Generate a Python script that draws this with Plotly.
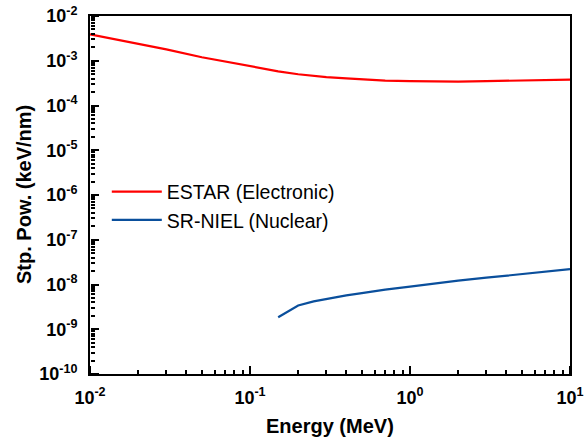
import plotly.graph_objects as go

# ESTAR electronic stopping power
e_energy = [0.01, 0.015, 0.02, 0.03, 0.05, 0.07, 0.1, 0.15, 0.2, 0.3, 0.4, 0.5, 0.7,
            1, 1.5, 2, 3, 5, 7, 10]
e_stp = [3.9e-3, 2.95e-3, 2.45e-3, 1.8e-3, 1.2e-3, 9.5e-4, 7.4e-4, 5.8e-4, 5.0e-4,
         4.3e-4, 4.05e-4, 3.85e-4, 3.6e-4, 3.5e-4, 3.4e-4, 3.42e-4, 3.5e-4, 3.65e-4,
         3.72e-4, 3.8e-4]

# SR-NIEL nuclear stopping power
n_energy = [0.15, 0.2, 0.25, 0.3, 0.4, 0.5, 0.7, 1, 1.5, 2, 3, 5, 7, 10]
n_stp = [1.85e-9, 3.4e-9, 4.2e-9, 4.8e-9, 5.7e-9, 6.4e-9, 7.7e-9, 9.0e-9, 1.08e-8,
         1.22e-8, 1.42e-8, 1.72e-8, 1.95e-8, 2.2e-8]

x_exps = [-2, -1, 0, 1]
y_exps = [-10, -9, -8, -7, -6, -5, -4, -3, -2]
x_tickvals = [10.0 ** k for k in x_exps]
x_ticktext = [f"<b>10<sup>{k}</sup></b>" for k in x_exps]
y_tickvals = [10.0 ** k for k in y_exps]
y_ticktext = [f"<b>10<sup>{k}</sup></b>" for k in y_exps]
minor_digits = [2, 3, 4, 5, 6, 7, 8, 9]
x_minor = [d * 10.0 ** k for k in x_exps[:-1] for d in minor_digits]
y_minor = [d * 10.0 ** k for k in y_exps[:-1] for d in minor_digits]

FONT = "Arial, Liberation Sans, sans-serif"

fig = go.Figure()
fig.add_trace(go.Scatter(x=e_energy, y=e_stp, mode="lines", name="ESTAR (Electronic)",
                         line=dict(color="#ff0000", width=2.2)))
fig.add_trace(go.Scatter(x=n_energy, y=n_stp, mode="lines", name="SR-NIEL (Nuclear)",
                         line=dict(color="#0a4f9c", width=2.2)))
# invisible trace to carry the tick-only overlay axes (ticks pointing into the plot)
fig.add_trace(go.Scatter(x=n_energy, y=n_stp, xaxis="x2", yaxis="y2", mode="lines",
                         line=dict(width=0), opacity=0, showlegend=False, hoverinfo="skip"))

tick_overlay = dict(showgrid=False, zeroline=False, showline=False, showticklabels=False,
                    ticks="outside", ticklen=8, tickwidth=2, tickcolor="#000000")

fig.update_layout(
    xaxis=dict(
        type="log", range=[-2, 1], tickmode="array", tickvals=x_tickvals, ticktext=x_ticktext,
        ticks="", ticklabelstandoff=6,
        showgrid=False, zeroline=False, showline=True, linecolor="#000000", linewidth=2,
        mirror=True, tickfont=dict(family=FONT, size=18, color="#000000"),
    ),
    yaxis=dict(
        type="log", range=[-10, -2], tickmode="array", tickvals=y_tickvals, ticktext=y_ticktext,
        ticks="", ticklabelstandoff=7,
        showgrid=False, zeroline=False, showline=True, linecolor="#000000", linewidth=2,
        mirror=True, tickfont=dict(family=FONT, size=18, color="#000000"),
    ),
    xaxis2=dict(
        type="log", range=[-2, 1], overlaying="x", side="top", anchor="free", position=0,
        tickmode="array", tickvals=x_tickvals,
        minor=dict(ticks="outside", ticklen=4, tickwidth=1.5, tickcolor="#000000",
                   tickmode="array", tickvals=x_minor),
        **tick_overlay,
    ),
    yaxis2=dict(
        type="log", range=[-10, -2], overlaying="y", side="right", anchor="free", position=0,
        tickmode="array", tickvals=y_tickvals,
        minor=dict(ticks="outside", ticklen=4, tickwidth=1.5, tickcolor="#000000",
                   tickmode="array", tickvals=y_minor),
        **tick_overlay,
    ),
    width=585, height=441,
    margin=dict(l=90, r=15, t=16, b=67, autoexpand=False),
    paper_bgcolor="white", plot_bgcolor="white",
    showlegend=True,
    legend=dict(x=0.035, y=0.563, xanchor="left", yanchor="top",
                bgcolor="rgba(0,0,0,0)", borderwidth=0,
                font=dict(family=FONT, size=19.5, color="black"),
                tracegroupgap=0, itemwidth=50),
)

fig.add_annotation(text="<b>Energy (MeV)</b>", xref="paper", yref="paper",
                   x=0.5, y=-0.145, xanchor="center", yanchor="middle", showarrow=False,
                   font=dict(family=FONT, size=20, color="black"))
fig.add_annotation(text="<b>Stp. Pow. (keV/nm)</b>", xref="paper", yref="paper",
                   x=-0.1375, y=0.5, xanchor="center", yanchor="middle", showarrow=False,
                   textangle=-90, font=dict(family=FONT, size=20, color="black"))

fig.write_html("out.html")
